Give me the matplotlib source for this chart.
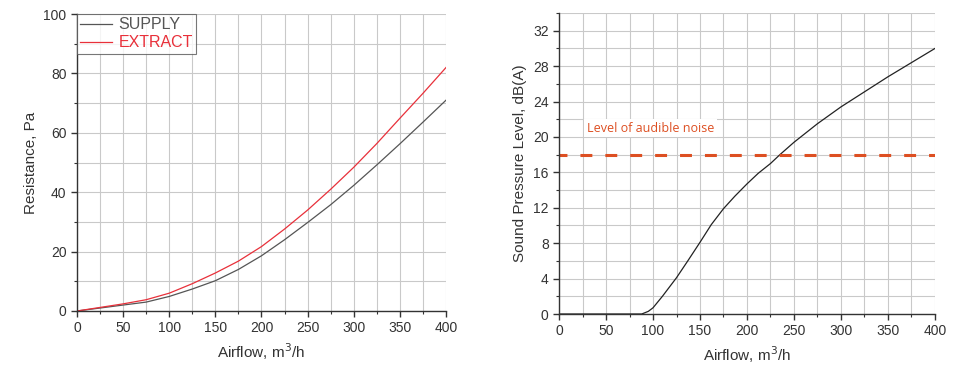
import matplotlib
matplotlib.use('Agg')
import matplotlib.pyplot as plt
from matplotlib.ticker import MultipleLocator

plt.rcParams['font.family'] = ['Liberation Sans', 'DejaVu Sans']

# ── data ──────────────────────────────────────────────────
airflow = [0, 25, 50, 75, 100, 125, 150, 175, 200, 225, 250, 275, 300, 325, 350, 375, 400]
supply = [0, 1.0, 2.0, 3.0, 4.9, 7.4, 10.2, 14.0, 18.6, 24.0, 29.8, 35.8, 42.3, 49.2, 56.3, 63.6, 71.0]
extract = [0, 1.2, 2.4, 3.8, 6.0, 9.2, 12.8, 16.8, 21.7, 27.6, 34.0, 41.0, 48.4, 56.4, 64.9, 73.3, 82.0]

spl_airflow = [0, 88, 95, 100, 110, 125, 137, 150, 162, 175, 187, 200, 212, 225, 235, 250, 275, 300, 325, 350, 375, 400]
spl = [0, 0, 0.3, 0.7, 2.0, 4.1, 6.0, 8.1, 10.1, 11.9, 13.3, 14.7, 15.9, 17.0, 18.0, 19.4, 21.5, 23.4, 25.1, 26.8, 28.4, 30.0]

noise_level = 18
noise_label = "Level of audible noise"

fig = plt.figure(figsize=(9.54, 3.67), dpi=100)
ax1 = fig.add_axes([0.0807, 0.1526, 0.3868, 0.809])
ax2 = fig.add_axes([0.586, 0.1444, 0.394, 0.820])


def style_axes(ax):
    ax.xaxis.set_major_locator(MultipleLocator(50))
    ax.xaxis.set_minor_locator(MultipleLocator(25))
    ax.grid(True, which='both', color='#c9c9c9', linewidth=0.8)
    ax.set_axisbelow(True)
    for side in ('top', 'right'):
        ax.spines[side].set_visible(False)
    for side in ('left', 'bottom'):
        ax.spines[side].set_color('#333333')
        ax.spines[side].set_linewidth(1.0)
    ax.tick_params(which='major', direction='out', length=4, width=1,
                   color='#333333', labelsize=10, labelcolor='#333333')
    ax.tick_params(which='minor', direction='out', length=2.5, width=0.8,
                   color='#333333')
    ax.set_xlabel('Airflow, m$^3$/h', fontsize=11, color='#333333')


# ── left: resistance ──
ax1.plot(airflow, supply, color='#555555', linewidth=0.9, label='SUPPLY')
ax1.plot(airflow, extract, color='#e8303a', linewidth=0.9, label='EXTRACT')
ax1.set_xlim(0, 400)
ax1.set_ylim(0, 100)
ax1.yaxis.set_major_locator(MultipleLocator(20))
ax1.yaxis.set_minor_locator(MultipleLocator(10))
style_axes(ax1)
ax1.set_ylabel('Resistance, Pa', fontsize=11, color='#333333')
leg = ax1.legend(loc='upper left', fontsize=11.5, frameon=True, fancybox=False,
                 borderaxespad=0, handlelength=2.0, handletextpad=0.4,
                 borderpad=0.2, labelspacing=0.2)
leg.get_frame().set_edgecolor('#555555')
leg.get_frame().set_linewidth(0.8)
for txt, line in zip(leg.get_texts(), leg.get_lines()):
    txt.set_color(line.get_color())

# ── right: sound pressure level ──
ax2.plot(spl_airflow, spl, color='#222222', linewidth=0.9)
ax2.axhline(noise_level, color='#dd4f22', linewidth=2.2,
            linestyle=(1.3, (3.9, 4.25)))
ax2.text(30, 21, noise_label, fontsize=9, color='#dd4f22', family='Open Sans',
         va='center', ha='left',
         bbox=dict(facecolor='white', edgecolor='none', pad=2))
ax2.set_xlim(0, 400)
ax2.set_ylim(0, 34)
ax2.yaxis.set_major_locator(MultipleLocator(4))
ax2.yaxis.set_minor_locator(MultipleLocator(2))
style_axes(ax2)
ax2.set_ylabel('Sound Pressure Level, dB(A)', fontsize=11, color='#333333')

fig.savefig('out.png', dpi=100)
